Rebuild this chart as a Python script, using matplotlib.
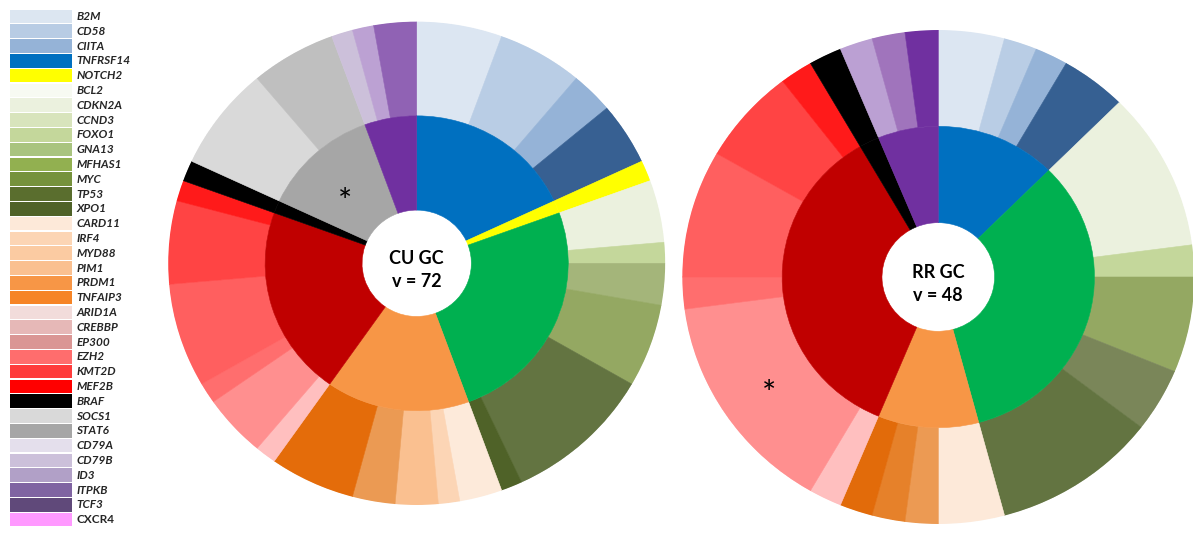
import matplotlib.pyplot as plt
import numpy as np

plt.rcParams['font.family'] = ['Lato', 'DejaVu Sans']

# legend on the left
legend_genes = ["B2M", "CD58", "CIITA", "TNFRSF14", "NOTCH2", "BCL2", "CDKN2A", "CCND3",
                "FOXO1", "GNA13", "MFHAS1", "MYC", "TP53", "XPO1", "CARD11", "IRF4",
                "MYD88", "PIM1", "PRDM1", "TNFAIP3", "ARID1A", "CREBBP", "EP300", "EZH2",
                "KMT2D", "MEF2B", "BRAF", "SOCS1", "STAT6", "CD79A", "CD79B", "ID3",
                "ITPKB", "TCF3", "CXCR4"]
legend_colors = ["#DCE6F1", "#B8CCE4", "#95B3D7", "#0070C0", "#FFFF00", "#F7FAF2", "#EBF1DE",
                 "#D8E4BC", "#C4D79B", "#A9C47F", "#92B050", "#76923C", "#5A6E2E", "#4F6228",
                 "#FDE9D9", "#FCD5B4", "#FBCBA2", "#FAC090", "#F79646", "#F68426", "#F2DCDB",
                 "#E6B8B7", "#DA9694", "#FF6D6D", "#FF3B3B", "#FF0000", "#000000", "#D9D9D9",
                 "#A6A6A6", "#E4DFEC", "#CCC0DA", "#B1A0C7", "#8064A2", "#60497A", "#FF99FF"]

# inner ring colours per pathway group
group_colors = {"immune": "#0070C0", "notch": "#FFFF00", "cycle": "#00B050",
                "nfkb": "#F79646", "epi": "#C00000", "braf": "#000000",
                "jak": "#A6A6A6", "bcr": "#7030A0"}

# CU GC, v = 72
cu_genes = ["B2M", "CD58", "CIITA", "TNFRSF14", "NOTCH2", "CDKN2A", "FOXO1", "GNA13",
            "MFHAS1", "TP53", "XPO1", "CARD11", "IRF4", "PIM1", "PRDM1", "TNFAIP3",
            "ARID1A", "CREBBP", "EP300", "EZH2", "KMT2D", "MEF2B", "BRAF", "SOCS1",
            "STAT6", "CD79B", "ID3", "ITPKB"]
cu_counts = [4, 4, 2, 3, 1, 3, 1, 2, 4, 7, 1, 2, 1, 2, 2, 4, 1, 3, 1, 5, 4, 1, 1, 5, 4, 1, 1, 2]
cu_groups = ["immune"] * 4 + ["notch"] + ["cycle"] * 6 + ["nfkb"] * 5 + ["epi"] * 6 + \
            ["braf"] + ["jak"] * 2 + ["bcr"] * 3
cu_colors = ["#DCE6F2", "#B9CDE5", "#95B3D7", "#376092", "#FFFF00", "#EBF1DE", "#C4D79B",
             "#A4B57A", "#94A862", "#637441", "#4F6228", "#FDEADA", "#FCD5B5", "#FAC090",
             "#EB9A53", "#E46C0A", "#FFBFBF", "#FF8F8F", "#FF6E6E", "#FF5F5F", "#FF4444",
             "#FF1A1A", "#000000", "#D9D9D9", "#BFBFBF", "#CCC0DA", "#BCA1D3", "#9062B4"]

# RR GC, v = 48
rr_genes = ["B2M", "CD58", "CIITA", "TNFRSF14", "CDKN2A", "FOXO1", "MFHAS1", "MYC", "TP53",
            "CARD11", "MYD88", "PRDM1", "TNFAIP3", "ARID1A", "CREBBP", "EP300", "EZH2",
            "KMT2D", "MEF2B", "BRAF", "CD79B", "ID3", "TCF3"]
rr_counts = [2, 1, 1, 2, 5, 1, 3, 2, 5, 2, 1, 1, 1, 1, 7, 1, 4, 3, 1, 1, 1, 1, 1]
rr_groups = ["immune"] * 4 + ["cycle"] * 5 + ["nfkb"] * 4 + ["epi"] * 6 + ["braf"] + ["bcr"] * 3
rr_colors = ["#DCE6F2", "#B9CDE5", "#95B3D7", "#366092", "#EBF1DE", "#C4D79B", "#94A862",
             "#7A8659", "#637441", "#FDE9D9", "#EC9A53", "#E6812A", "#E26B0A", "#FFBFBF",
             "#FF8F8F", "#FF6E6E", "#FF5F5F", "#FF4444", "#FF1A1A", "#000000", "#BBA0D3",
             "#A074BC", "#7030A0"]

R_HOLE = 0.22
R_MID = 0.61


def draw_sunburst(ax, counts, colors, groups, label, star):
    counts = np.array(counts, dtype=float)
    widths = counts / counts.sum() * 2 * np.pi
    starts = np.concatenate([[0], np.cumsum(widths)[:-1]])
    ax.bar(starts, 1.0 - R_MID, width=widths, bottom=R_MID, align='edge',
           color=colors, edgecolor=colors, linewidth=0.4)

    # inner ring = sum of consecutive genes in the same group
    g_start, g_width, g_col = [], [], []
    for s, w, g in zip(starts, widths, groups):
        if g_col and g_col[-1] == group_colors[g]:
            g_width[-1] += w
        else:
            g_start.append(s)
            g_width.append(w)
            g_col.append(group_colors[g])
    ax.bar(g_start, R_MID - R_HOLE, width=g_width, bottom=R_HOLE, align='edge',
           color=g_col, edgecolor=g_col, linewidth=0.4)

    ax.set_theta_zero_location('N')
    ax.set_theta_direction(-1)
    ax.set_ylim(0, 1)
    ax.set_axis_off()
    ax.set_aspect('auto')
    ax.annotate(label, xy=(0, 0), xytext=(0, -5), textcoords='offset points',
                ha='center', va='center', fontsize=13, fontweight='bold', linespacing=1.4)
    ax.annotate("*", xy=(np.deg2rad(star[0]), star[1]), xytext=(0, -6),
                textcoords='offset points', ha='center', va='center', fontsize=24)


fig = plt.figure(figsize=(11.93, 5.37), dpi=100)

ax_leg = fig.add_axes([10 / 1193, 10 / 537, 150 / 1193, 518 / 537])
y = np.arange(len(legend_genes))
ax_leg.barh(y, 1, height=0.92, color=legend_colors, align='center')
for i, g in enumerate(legend_genes):
    ax_leg.text(1.07, i, g, va='center', ha='left', fontsize=8.5, fontweight='bold',
                style='normal' if g == "CXCR4" else 'italic', color='#262626')
ax_leg.set_xlim(0, 150 / 62)
ax_leg.set_ylim(len(legend_genes) - 0.5, -0.5)
ax_leg.set_axis_off()

ax1 = fig.add_axes([168.2 / 1193, 32 / 537, 497 / 1193, 483.4 / 537], projection='polar')
draw_sunburst(ax1, cu_counts, cu_colors, cu_groups, "CU GC\nv = 72", (314.4, 0.404))

ax2 = fig.add_axes([682.3 / 1193, 13 / 537, 512 / 1193, 494 / 537], projection='polar')
draw_sunburst(ax2, rr_counts, rr_colors, rr_groups, "RR GC\nv = 48", (236.1, 0.796))

fig.savefig("out.png", dpi=100)
